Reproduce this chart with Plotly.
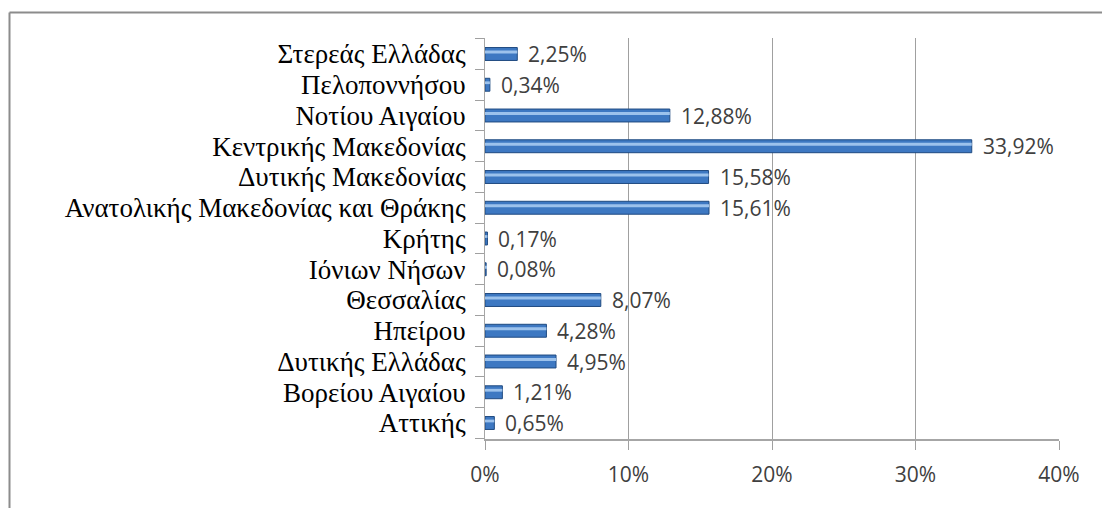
import plotly.graph_objects as go

# Regions (bottom to top as drawn on the category axis)
regions = [
    "Αττικής",
    "Βορείου Αιγαίου",
    "Δυτικής Ελλάδας",
    "Ηπείρου",
    "Θεσσαλίας",
    "Ιόνιων Νήσων",
    "Κρήτης",
    "Ανατολικής Μακεδονίας και Θράκης",
    "Δυτικής Μακεδονίας",
    "Κεντρικής Μακεδονίας",
    "Νοτίου Αιγαίου",
    "Πελοποννήσου",
    "Στερεάς Ελλάδας",
]
shares = [0.65, 1.21, 4.95, 4.28, 8.07, 0.08, 0.17, 15.61, 15.58, 33.92, 12.88, 0.34, 2.25]

x_ticks = [0, 10, 20, 30, 40]
x_tick_text = ["0%", "10%", "20%", "30%", "40%"]

W, H = 1102, 508
L, R, T, B = 485, 1102 - 1059, 38, 508 - 439

fig = go.Figure()

# main cylinder body
fig.add_trace(go.Bar(
    y=regions, x=shares, orientation="h",
    width=0.42,
    marker=dict(color="#3D78C2", line=dict(color="#1F4A80", width=1)),
    hoverinfo="skip", showlegend=False,
))
# lighter upper highlight stripe
fig.add_trace(go.Bar(
    y=regions, x=shares, orientation="h",
    width=0.09, offset=0.02,
    marker=dict(color="#9CC2EC", line=dict(width=0)),
    hoverinfo="skip", showlegend=False,
))

# value labels next to each bar
for r, v in zip(regions, shares):
    fig.add_annotation(
        x=v, y=r, xref="x", yref="y",
        text=f"{v:.2f}%".replace(".", ","),
        showarrow=False, xanchor="left", xshift=9,
        font=dict(family="Open Sans", size=21, color="#404040"),
    )

# outer frame (left and top edges)
pw = W - L - R
ph = H - T - B
def px_to_paper_x(px):
    return (px - L) / pw
def px_to_paper_y(py):
    return (H - B - py) / ph

fig.add_shape(type="line", xref="paper", yref="paper",
              x0=px_to_paper_x(9.5), x1=px_to_paper_x(9.5),
              y0=px_to_paper_y(12.5), y1=px_to_paper_y(520),
              line=dict(color="#8C8C8C", width=2))
fig.add_shape(type="line", xref="paper", yref="paper",
              x0=px_to_paper_x(9.5), x1=px_to_paper_x(1110),
              y0=px_to_paper_y(12.5), y1=px_to_paper_y(12.5),
              line=dict(color="#8C8C8C", width=2))

fig.update_layout(
    width=W, height=H,
    margin=dict(l=L, r=R, t=T, b=B, pad=0),
    paper_bgcolor="white", plot_bgcolor="white",
    barmode="overlay",
)
fig.update_xaxes(
    range=[0, 40], tickvals=x_ticks, ticktext=x_tick_text,
    showgrid=True, gridcolor="#A0A0A0", gridwidth=1,
    zeroline=False, showline=True, linecolor="#A6A6A6", linewidth=2,
    ticks="outside", ticklen=9, tickcolor="#A0A0A0",
    ticklabelstandoff=7,
    tickfont=dict(family="Open Sans", size=21, color="#404040"),
    fixedrange=True,
)
fig.update_yaxes(
    type="category", categoryorder="array", categoryarray=regions,
    tickmode="linear", tick0=0, dtick=1,
    showgrid=False, zeroline=False,
    showline=True, linecolor="#A6A6A6", linewidth=1,
    ticks="outside", ticklen=9, tickcolor="#A0A0A0", tickson="boundaries",
    tickfont=dict(family="Liberation Serif", size=27, color="#000000"),
    ticklabelstandoff=13,
    fixedrange=True,
)

fig.write_html("out.html", config={"displayModeBar": False})
